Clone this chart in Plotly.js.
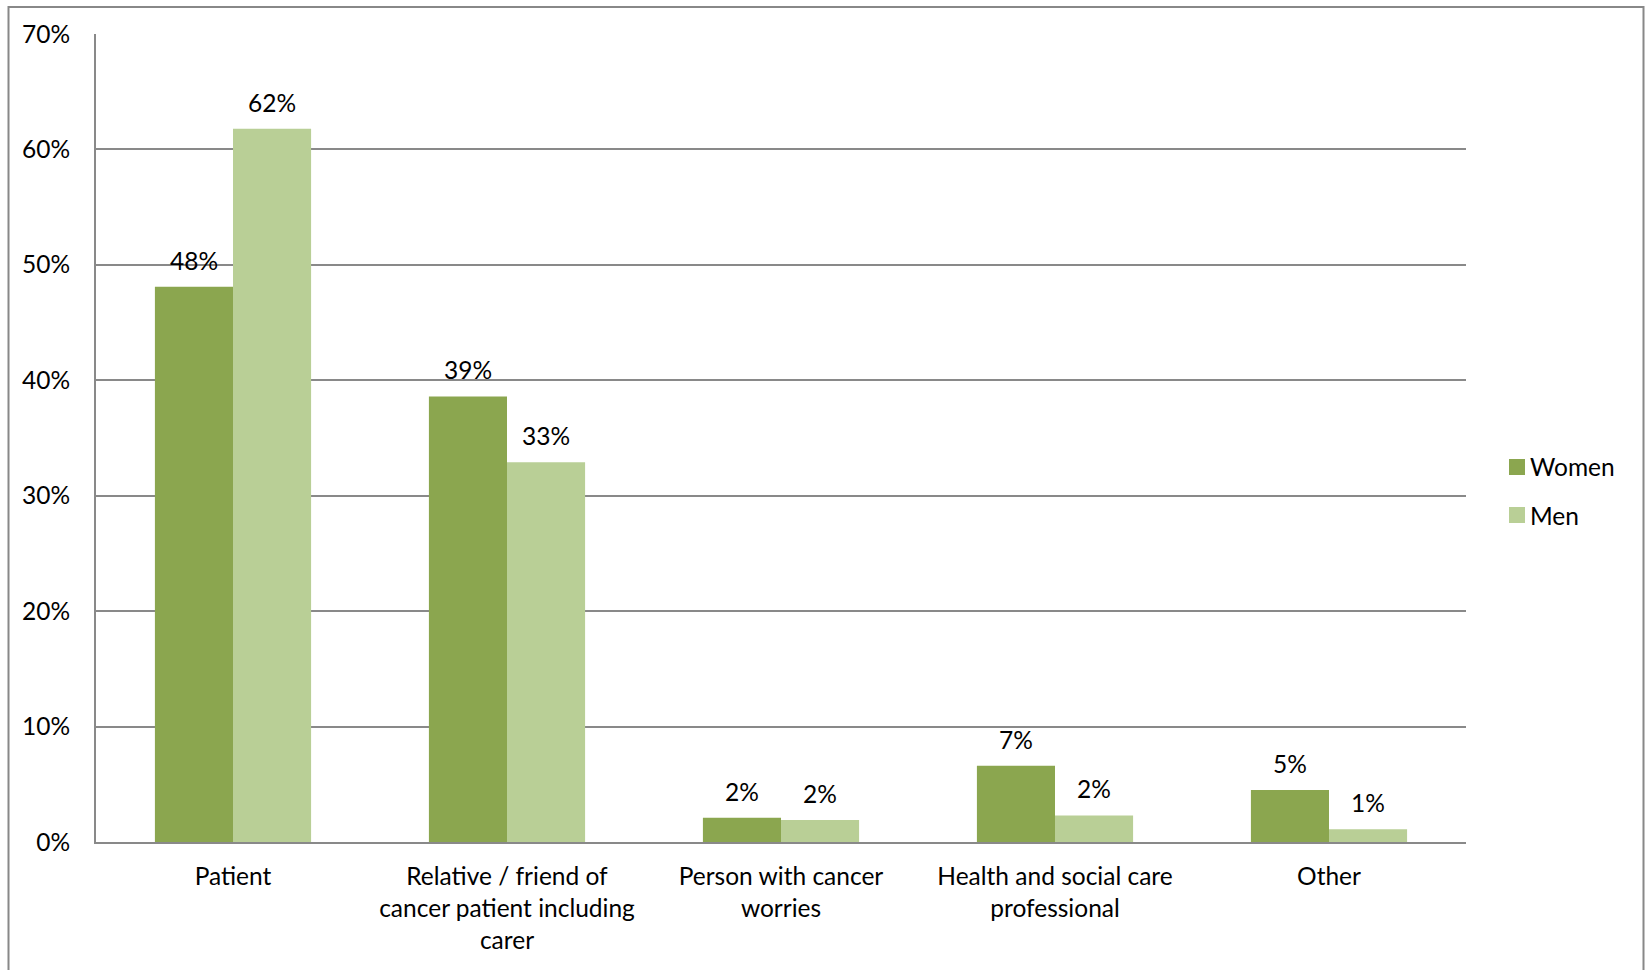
<!DOCTYPE html>
<html>
<head>
<meta charset="utf-8">
<script src="https://cdn.plot.ly/plotly-3.0.1.min.js"></script>
<style>
  html, body { margin: 0; padding: 0; background: #ffffff; }
  #chart { width: 1649px; height: 970px; }
</style>
</head>
<body>
<div id="chart"></div>
<script>
// Who contacted the service, split by gender (share of respondents)
const categories = [
  "Patient",
  "Relative / friend of<br>cancer patient including<br>carer",
  "Person with cancer<br>worries",
  "Health and social care<br>professional",
  "Other"
];
const women = [0.481, 0.386, 0.021, 0.066, 0.045];
const men   = [0.618, 0.329, 0.019, 0.023, 0.011];
const seriesNames = ["Women", "Men"];
const seriesColors = ["#8BA64F", "#B9CF96"];
const yTickVals = [0, 0.1, 0.2, 0.3, 0.4, 0.5, 0.6, 0.7];
const yTickText = ["0%", "10%", "20%", "30%", "40%", "50%", "60%", "70%"];

const FONT = "Lato, 'Open Sans', sans-serif";
const FONT_SIZE = 24.5;
const GRID = "#898989";
const BARGAP = 0.43;

// Page geometry (pixels)
const W = 1649, H = 970;
const M = { l: 96, r: 183, t: 34, b: 128 };
const PW = W - M.l - M.r, PH = H - M.t - M.b;
const px2x = px => (px - M.l) / PW;
const px2y = py => (H - M.b - py) / PH;

const traces = [women, men].map((vals, k) => ({
  type: "bar",
  name: seriesNames[k],
  x: categories,
  y: vals,
  marker: { color: seriesColors[k], line: { width: 0 } },
  hoverinfo: "x+y",
  showlegend: false
}));

// Value labels sit above each bar, offset to the bar's slot inside its group
const slot = (1 - BARGAP) / 4;
const annotations = [];
[women, men].forEach((vals, k) => {
  vals.forEach((v, i) => {
    annotations.push({
      xref: "x", yref: "y",
      x: i + (k === 0 ? -slot : slot),
      y: v,
      text: Math.round(v * 100) + "%",
      showarrow: false,
      yanchor: "bottom",
      yshift: 10,
      font: { family: FONT, size: FONT_SIZE, color: "#000000" }
    });
  });
});

// Legend to the right of the plot: square key + series name per row
const shapes = [];
const legendKeyLeft = 1509, legendKeySize = 16, legendTop = 459, legendRow = 48;
seriesNames.forEach((name, k) => {
  const top = legendTop + k * legendRow;
  shapes.push({
    type: "rect", xref: "paper", yref: "paper",
    x0: px2x(legendKeyLeft), x1: px2x(legendKeyLeft + legendKeySize),
    y0: px2y(top + legendKeySize), y1: px2y(top),
    fillcolor: seriesColors[k], line: { width: 0 }
  });
  annotations.push({
    xref: "paper", yref: "paper",
    x: px2x(legendKeyLeft + legendKeySize + 3), xanchor: "left",
    y: px2y(top + legendKeySize / 2), yanchor: "middle",
    text: name, showarrow: false,
    font: { family: FONT, size: FONT_SIZE, color: "#000000" }
  });
});

// Outer chart frame (open at the bottom of the page)
shapes.push({
  type: "rect", xref: "paper", yref: "paper",
  x0: px2x(8.5), x1: px2x(1643.5),
  y0: px2y(H + 40), y1: px2y(7),
  line: { color: "#888888", width: 2 },
  fillcolor: "rgba(0,0,0,0)",
  layer: "below"
});

const layout = {
  width: W,
  height: H,
  margin: M,
  paper_bgcolor: "#ffffff",
  plot_bgcolor: "#ffffff",
  font: { family: FONT, size: FONT_SIZE, color: "#000000" },
  barmode: "group",
  bargap: BARGAP,
  bargroupgap: 0,
  showlegend: false,
  xaxis: {
    type: "category",
    showgrid: false,
    zeroline: false,
    showline: true,
    linecolor: GRID,
    linewidth: 2,
    ticks: "",
    ticklabelstandoff: 12,
    tickfont: { family: FONT, size: FONT_SIZE, color: "#000000" },
    fixedrange: true
  },
  yaxis: {
    range: [0, 0.7],
    tickvals: yTickVals,
    ticktext: yTickText,
    showgrid: true,
    gridcolor: GRID,
    gridwidth: 2,
    zeroline: false,
    showline: true,
    linecolor: GRID,
    linewidth: 2,
    ticks: "",
    ticklabelstandoff: 19,
    tickfont: { family: FONT, size: FONT_SIZE, color: "#000000" },
    fixedrange: true
  },
  annotations: annotations,
  shapes: shapes
};

Plotly.newPlot("chart", traces, layout, { displayModeBar: false, staticPlot: true });
</script>
</body>
</html>
